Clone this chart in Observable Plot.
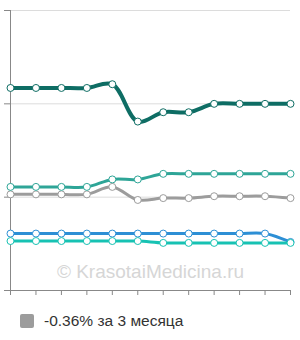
<!DOCTYPE html>
<html><head><meta charset="utf-8">
<script src="https://cdn.jsdelivr.net/npm/d3@7"></script>
<script src="https://cdn.jsdelivr.net/npm/@observablehq/plot@0.6"></script>
<style>
body{margin:0;background:#fff;font-family:"Liberation Sans",Arial,sans-serif;}
#legend{display:flex;align-items:center;margin:12px 0 0 20px;font-size:15.5px;color:#333;}
#legend .sw{width:14px;height:14px;background:#9c9c9c;border-radius:2px;margin-right:10px;}
</style></head><body>
<div id="chart"></div>
<div id="legend"><span class="sw"></span><span>-0.36% за 3 месяца</span></div>
<script>
const steps = [0,1,2,3,4,5,6,7,8,9,10,11];
const darkTeal = [21.7,21.7,21.7,21.7,22.1,18.1,19.1,19.1,20.0,20.0,20.0,20.0];
const teal     = [11.1,11.1,11.1,11.1,11.9,11.9,12.5,12.5,12.5,12.5,12.5,12.5];
const gray     = [10.3,10.3,10.3,10.3,11.1,9.7,9.9,9.9,10.1,10.1,10.1,9.9];
const blue     = [6.1,6.1,6.1,6.1,6.1,6.1,6.1,6.1,6.1,6.1,6.1,5.2];
const cyan     = [5.3,5.3,5.3,5.3,5.3,5.3,5.1,5.1,5.1,5.1,5.1,5.1];
const gridTicks = [0,10,20,30];

const series = [
  {name:"blue", values:blue, color:"#2d8fd5", w:3},
  {name:"cyan", values:cyan, color:"#17c2b3", w:3},
  {name:"gray", values:gray, color:"#9c9c9c", w:3},
  {name:"teal", values:teal, color:"#2ea597", w:3},
  {name:"darkTeal", values:darkTeal, color:"#0e6d64", w:4}
];

const marks = [
  Plot.gridY(gridTicks, {stroke:"#dcdcdc", strokeOpacity:1}),
  Plot.axisY(gridTicks, {tickSize:6, tickFormat:()=>"", stroke:"#888", label:null}),
  Plot.ruleX([0], {y1:0, y2:30, stroke:"#888"}),
  Plot.ruleY([0], {stroke:"#888"}),
  Plot.axisX(steps, {tickSize:5, tickFormat:()=>"", stroke:"#888", label:null}),
  Plot.text(["© KrasotaiMedicina.ru"], {frameAnchor:"bottom", dy:-13, x:null, fontSize:19, fill:"#d6d6d6", fontFamily:"Liberation Sans, Arial, sans-serif"})
];
for (const s of series) {
  const data = steps.map((x,i)=>({x, y:s.values[i]}));
  marks.push(Plot.line(data, {x:"x", y:"y", stroke:s.color, strokeWidth:s.w, curve:"catmull-rom"}));
  marks.push(Plot.dot(data, {x:"x", y:"y", r:3.5, fill:"white", stroke:s.color, strokeWidth:1}));
}

const chart = Plot.plot({
  width:300, height:300,
  marginTop:10, marginBottom:10, marginLeft:10, marginRight:10,
  x:{domain:[0,11], axis:null, label:null},
  y:{domain:[0,30], axis:null, label:null},
  marks
});
document.getElementById("chart").appendChild(chart);
</script>
</body></html>
